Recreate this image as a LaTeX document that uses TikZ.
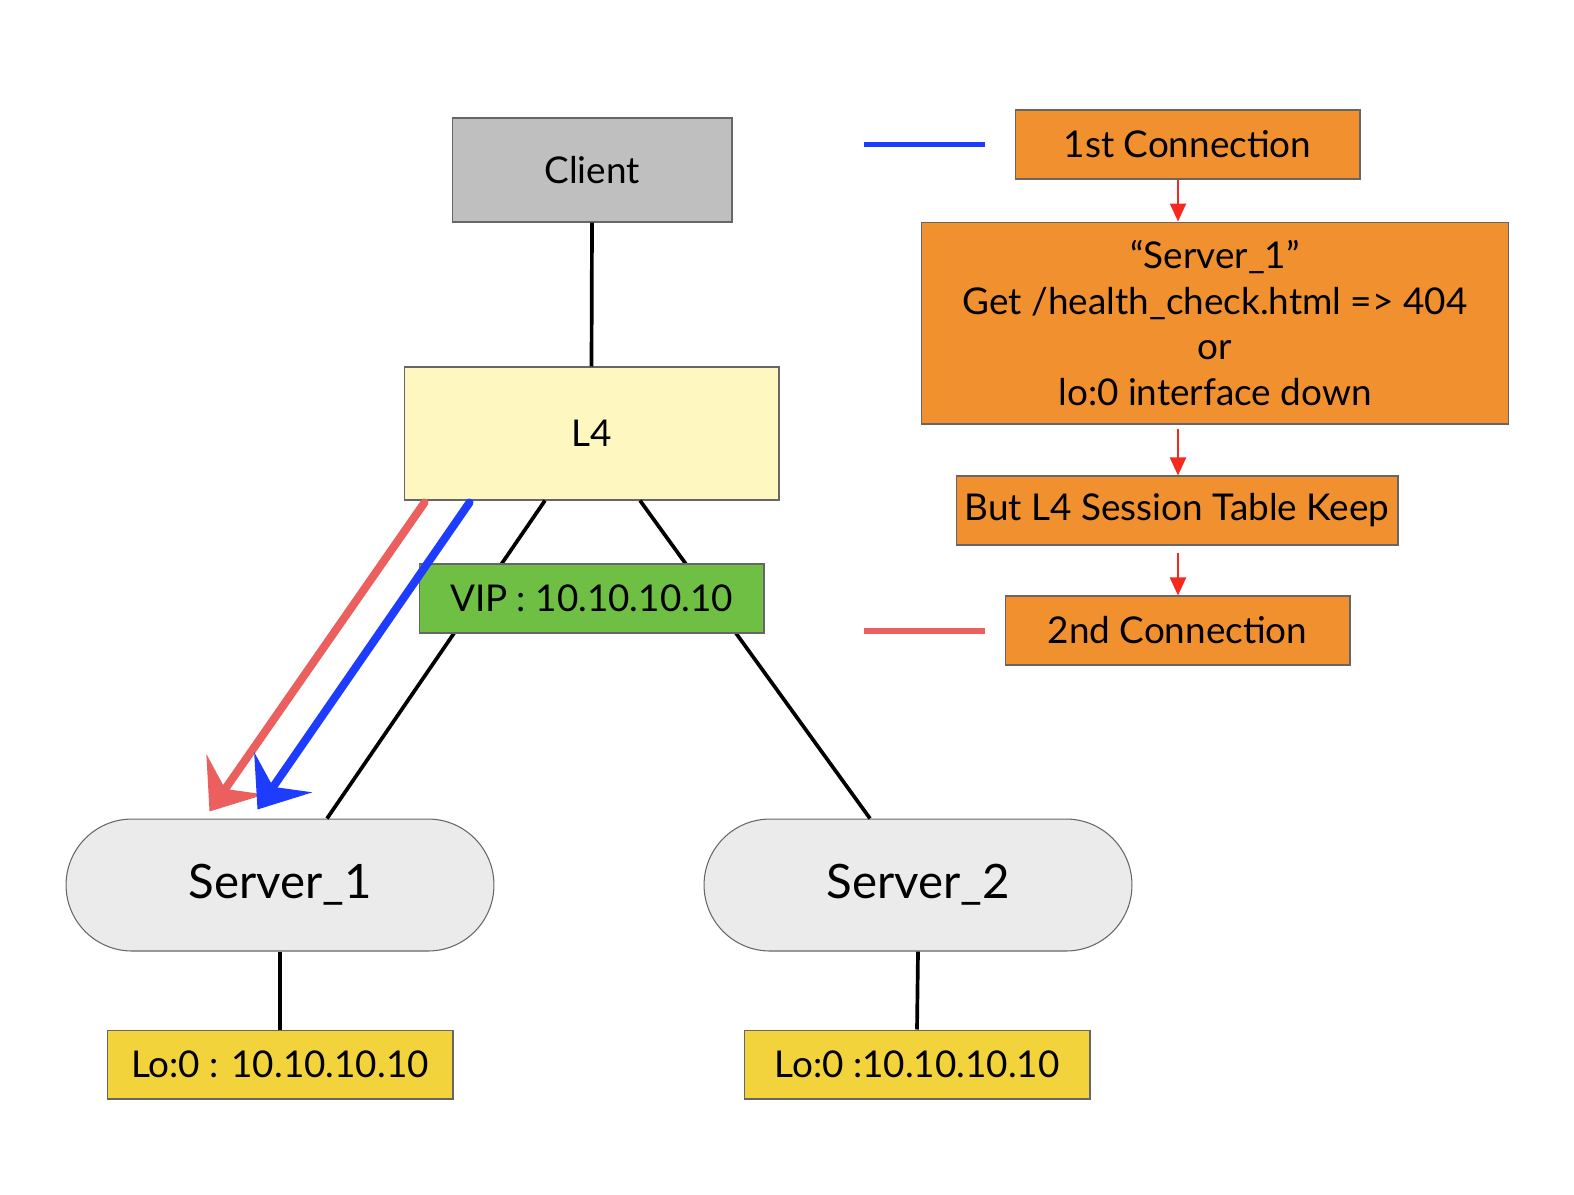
\documentclass[tikz,border=0pt]{standalone}
\usepackage{fontspec}
\setmainfont{Lato}
\usetikzlibrary{arrows.meta, positioning, calc}

\definecolor{clientgray}{HTML}{BFBFBF}
\definecolor{lfouryellow}{HTML}{FEF8C0}
\definecolor{vipgreen}{HTML}{70BF45}
\definecolor{servergray}{HTML}{EBEBEB}
\definecolor{loyellow}{HTML}{F2D33B}
\definecolor{steporange}{HTML}{F0902F}
\definecolor{flowred}{HTML}{F5291F}
\definecolor{sketchred}{HTML}{EB5F5F}
\definecolor{sketchblue}{HTML}{1E3CFF}
\definecolor{edgegray}{HTML}{666666}

\begin{document}
\begin{tikzpicture}[
  x=0.02cm, y=-0.02cm,
  box/.style = {draw=edgegray, line width=0.6pt, align=center, inner sep=2pt,
                font=\fontsize{21}{26}\selectfont},
  client/.style = {box, fill=clientgray, minimum width=5.6cm, minimum height=2.08cm},
  balancer/.style = {box, fill=lfouryellow, minimum width=7.5cm, minimum height=2.66cm},
  vip/.style = {box, fill=vipgreen, minimum width=6.9cm, minimum height=1.38cm},
  server/.style = {box, fill=servergray, rounded corners=1.32cm, minimum width=8.56cm,
                   minimum height=2.64cm, font=\fontsize{27}{32}\selectfont},
  loop_if/.style = {box, fill=loyellow, minimum width=6.92cm, minimum height=1.38cm},
  stepbox/.style = {box, fill=steporange, minimum height=1.38cm},
  wire/.style = {line width=2.1pt},
  flow/.style = {line width=1.3pt, draw=flowred, -{Triangle[length=3.6mm, width=3.2mm]}},
  sketch/.style = {line width=4.6pt, line cap=round, -{Stealth[length=9mm, width=14mm, inset=3.5mm]}},
  legend/.style = {line width=3.4pt}
]
\useasboundingbox (0,0) rectangle (1574,1194);

%--------------------------------------------------
% Network (left side)
%--------------------------------------------------
\node[client] (client) at (592,170) {Client};
\node[balancer] (l4) at (591.5,433.5) {L4};
\node[server] (s1) at (280,885) {Server\_1};
\node[server] (s2) at (918,885) {Server\_2};
\node[loop_if] (lo1) at (280,1064.5) {Lo:0 : 10.10.10.10};
\node[loop_if] (lo2) at (917,1064.5) {Lo:0 :10.10.10.10};

% links
\draw[wire] (client.south) -- (l4.north);
\draw[wire] ($(l4.south)+(-46.5,0)$) -- ($(s1.north)+(47,0)$);
\draw[wire] ($(l4.south)+(48.5,0)$) -- ($(s2.north)+(-48,0)$);
\draw[wire] (s1.south) -- (lo1.north);
\draw[wire] (s2.south) -- (lo2.north);

% VIP label sits on top of the links
\node[vip] (vip) at (591.5,598.5) {VIP : 10.10.10.10};

% connections to Server_1 (red = 2nd, blue = 1st)
\draw[sketch, draw=sketchred, fill=sketchred]
  ($(l4.south west)+(21,2)$) -- ($(s1.north west)+(144,-7)$);
\draw[sketch, draw=sketchblue, fill=sketchblue]
  ($(l4.south west)+(66,2)$) -- ($(s1.north west)+(192,-9)$);

%--------------------------------------------------
% Sequence (right side)
%--------------------------------------------------
\node[stepbox, minimum width=6.9cm] (c1) at (1187.5,144.5) {1st Connection};
\node[stepbox, minimum width=11.76cm, minimum height=4.04cm]
  (fail) at (1215,323) {``Server\_1''\\Get /health\_check.html => 404\\or\\lo:0 interface down};
\node[stepbox, minimum width=8.84cm] (keep) at (1177,510.5) {But L4 Session Table Keep};
\node[stepbox, minimum width=6.9cm] (c2) at (1177.5,630.5) {2nd Connection};

\coordinate (ax) at (1178,0);
\draw[flow] (c1.south -| ax) -- (fail.north -| ax);
\draw[flow] ($(fail.south -| ax)+(0,4)$) -- (keep.north -| ax);
\draw[flow] ($(keep.south -| ax)+(0,7)$) -- (c2.north -| ax);

% legend strokes
\draw[legend, sketchblue] ($(c1.west)+(-151,0)$) -- ($(c1.west)+(-30,0)$);
\draw[legend, sketchred] ($(c2.west)+(-141,0)$) -- ($(c2.west)+(-20,0)$);

\end{tikzpicture}
\end{document}
